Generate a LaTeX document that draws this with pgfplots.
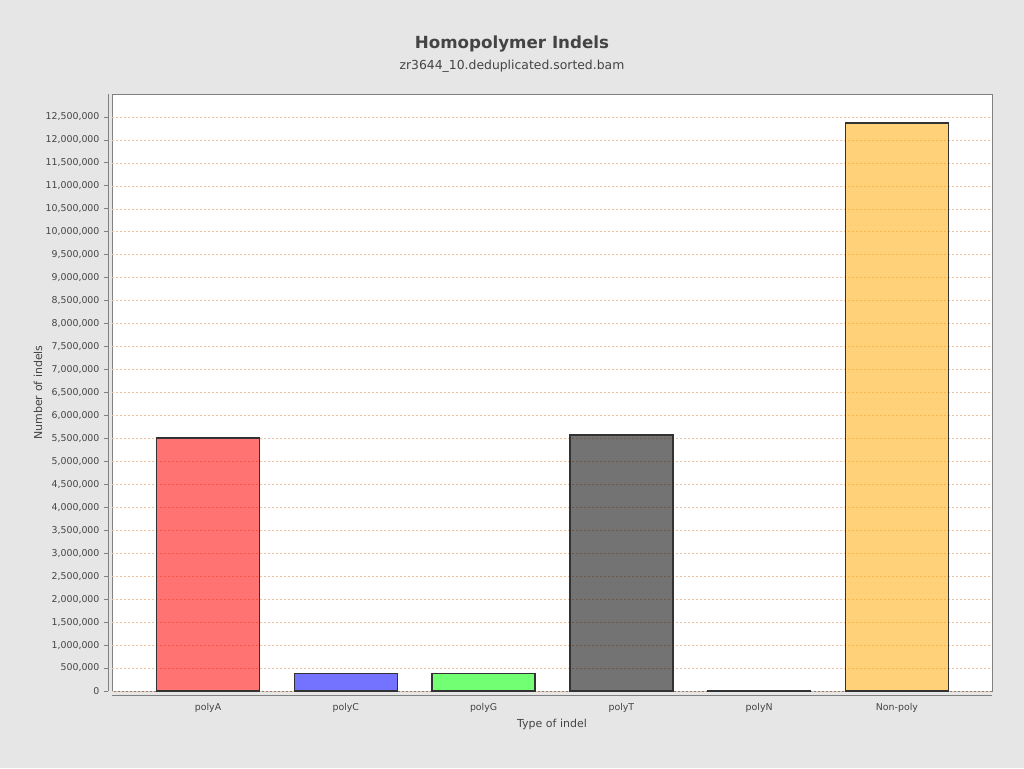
\documentclass[border=0pt]{standalone}
\usepackage{fontspec}
\setmainfont{DejaVu Sans}
\usepackage{pgfplots}
\pgfplotsset{compat=1.18}
\definecolor{bgc}{RGB}{230,230,230}
\definecolor{txt}{RGB}{68,68,68}
\definecolor{axc}{RGB}{128,128,128}
\definecolor{gridc}{RGB}{240,195,160}
\definecolor{edgec}{RGB}{50,50,50}
\definecolor{cA}{RGB}{255,0,0}
\definecolor{cC}{RGB}{0,0,255}
\definecolor{cG}{RGB}{0,255,0}
\definecolor{cT}{RGB}{0,0,0}
\definecolor{cO}{RGB}{255,173,10}
\begin{document}
\begin{tikzpicture}[x=1pt,y=1pt]
\useasboundingbox (0,0) rectangle (1024,768);
\fill[bgc] (0,0) rectangle (1024,768);
\begin{axis}[
  at={(112pt,77pt)}, anchor=south west,
  scale only axis, width=880pt, height=597pt,
  xmin=-0.697, xmax=5.69,
  ymin=0, ymax=13000000,
  axis background/.style={fill=white, draw=axc, line width=0.8pt},
  axis x line=bottom, axis y line=left,
  axis line style={-, draw=axc, line width=0.8pt},
  axis x line shift=4pt, axis y line shift=4pt,
  xtick={0,1,2,3,4,5},
  xticklabels={polyA,polyC,polyG,polyT,polyN,Non-poly},
  x tick style={draw=none},
  ytick={0,500000,...,12500000},
  y tick style={draw=axc, line width=0.8pt},
  tick align=outside, major tick length=4pt,
  scaled y ticks=false,
  /pgf/number format/fixed, /pgf/number format/precision=0,
  /pgf/number format/1000 sep={,}, /pgf/number format/assume math mode=true,
  ticklabel style={font=\fontsize{9.4}{11}\selectfont, text=txt},
  yticklabel style={xshift=-1pt},
  xticklabel style={yshift=-1pt},
  ymajorgrids,
  major grid style={draw=gridc, dash pattern=on 2pt off 2pt, line width=0.6pt},
  xlabel={Type of indel},
  ylabel={Number of indels},
  label style={font=\fontsize{11}{13}\selectfont, text=txt},
  xlabel style={at={(axis description cs:0.5,-0.0553)}, anchor=center},
  ylabel style={at={(axis description cs:-0.0841,0.5)}, anchor=center},
  title={Homopolymer Indels},
  title style={at={(axis description cs:0.4545,1.0737)}, anchor=center, font=\fontsize{16.7}{19}\selectfont\bfseries, text=txt},
  ybar, bar width=103pt, bar shift=0pt,
  clip=false,
]
\addplot[fill=cA, fill opacity=0.55, draw=edgec, draw opacity=1, line width=1.5pt] coordinates {(0,5510000)};
\addplot[fill=cC, fill opacity=0.55, draw=edgec, draw opacity=1, line width=1.5pt] coordinates {(1,386000)};
\addplot[fill=cG, fill opacity=0.55, draw=edgec, draw opacity=1, line width=1.5pt] coordinates {(2,386000)};
\addplot[fill=cT, fill opacity=0.55, draw=edgec, draw opacity=1, line width=1.5pt] coordinates {(3,5570000)};
\addplot[fill=cT, fill opacity=0.55, draw=edgec, draw opacity=1, line width=1.5pt] coordinates {(4,14000)};
\addplot[fill=cO, fill opacity=0.55, draw=edgec, draw opacity=1, line width=1.5pt] coordinates {(5,12365000)};
\node[font=\fontsize{12.4}{14}\selectfont, text=txt, anchor=center] at (axis description cs:0.4545,1.047) {zr3644\_10.deduplicated.sorted.bam};
\end{axis}
\end{tikzpicture}
\end{document}
